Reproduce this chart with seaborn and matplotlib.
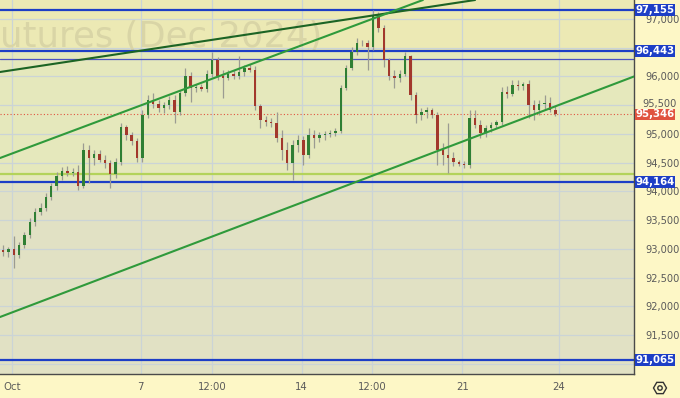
import numpy as np
import pandas as pd
import matplotlib
matplotlib.use("Agg")
import matplotlib.pyplot as plt
import matplotlib.transforms as mtransforms
from matplotlib.patches import Rectangle, RegularPolygon, Circle
import seaborn as sns

# ---------------- data ----------------
opens = [92982, 92948, 93000, 92896, 93069, 93243, 93469, 93643, 93713, 93904,
         94095, 94269, 94356, 94322, 94339, 94095, 94721, 94582, 94652, 94548,
         94495, 94304, 94513, 95121, 94982, 94878, 94582, 95330, 95591, 95521,
         95452, 95504, 95591, 95382, 95713, 96008, 95800, 95817, 95782, 96043,
         96287, 96008, 95974, 96043, 96008, 96078, 96147, 96113, 95487, 95243,
         95208, 95191, 94930, 94721, 94495, 94808, 94895, 94635, 94982, 94930,
         94982, 95000, 95017, 95052, 95800, 96147, 96426, 96582, 96582, 96513,
         97069, 96843, 96287, 96008, 95974, 96043, 96356, 95678, 95330, 95382,
         95417, 95330, 94721, 94635, 94582, 94513, 94478, 94461, 95278, 95156,
         95017, 95104, 95156, 95208, 95730, 95695, 95852, 95834, 95869, 95504,
         95417, 95521, 95539, 95417]
highs = [93069, 93035, 93226, 93122, 93296, 93539, 93713, 93800, 93974, 94148,
         94339, 94426, 94443, 94408, 94461, 94843, 94808, 94721, 94721, 94635,
         94548, 94582, 95191, 95156, 95035, 94930, 95417, 95678, 95713, 95591,
         95556, 95661, 95678, 95765, 96147, 96078, 95869, 95869, 96113, 96426,
         96339, 96113, 96113, 96113, 96356, 96200, 96217, 96182, 95521, 95313,
         95278, 95382, 95069, 94861, 94895, 94982, 94965, 95104, 95069, 95035,
         95052, 95069, 95104, 95852, 96200, 96513, 96669, 96635, 96635, 97156,
         97121, 96895, 96321, 96113, 96113, 96426, 96374, 95730, 95452, 95469,
         95452, 95382, 94843, 95191, 94687, 94548, 94530, 95417, 95417, 95243,
         95156, 95208, 95243, 95817, 95834, 95939, 95939, 95904, 95939, 95591,
         95591, 95678, 95643, 95487]
lows = [92878, 92861, 92669, 92843, 93017, 93191, 93400, 93591, 93661, 93852,
        94026, 94200, 94269, 94269, 94026, 94061, 94148, 94461, 94513, 94408,
        94061, 94235, 94461, 94895, 94808, 94513, 94513, 95278, 95452, 95382,
        95365, 95434, 95191, 95330, 95661, 95556, 95730, 95748, 95730, 95991,
        95939, 95626, 95939, 95956, 95956, 96008, 96078, 95417, 95104, 95139,
        95121, 94861, 94548, 94374, 94200, 94687, 94461, 94582, 94756, 94861,
        94895, 94948, 94965, 95017, 95765, 96113, 96374, 96530, 96113, 96461,
        96774, 96165, 95939, 95800, 95904, 96008, 95591, 95191, 95243, 95278,
        95278, 94461, 94461, 94322, 94443, 94443, 94408, 94408, 95104, 94930,
        94948, 95035, 95104, 95156, 95626, 95661, 95765, 95765, 95278, 95243,
        95330, 95417, 95382, 95313]
closes = [92948, 93000, 92896, 93069, 93243, 93469, 93643, 93713, 93904, 94095,
          94269, 94356, 94322, 94339, 94095, 94721, 94582, 94652, 94548, 94495,
          94304, 94513, 95121, 94982, 94878, 94582, 95330, 95591, 95521, 95452,
          95504, 95591, 95382, 95713, 96008, 95800, 95817, 95782, 96043, 96287,
          96008, 95974, 96043, 96008, 96078, 96147, 96113, 95487, 95243, 95208,
          95191, 94930, 94721, 94495, 94808, 94895, 94635, 94982, 94930, 94982,
          95000, 95017, 95052, 95800, 96147, 96426, 96582, 96575, 96513, 97069,
          96843, 96287, 96008, 95974, 96043, 96356, 95678, 95330, 95382, 95417,
          95330, 94721, 94635, 94582, 94513, 94478, 94461, 95278, 95156, 95017,
          95104, 95156, 95208, 95730, 95695, 95852, 95834, 95869, 95504, 95417,
          95521, 95539, 95417, 95346]

level_blue = [97155, 96443, 94164, 91065]
level_thin_blue = 96305
level_lime = 94300
last_price = 95346

# trend lines: (day position, price)
trend_dark_x, trend_dark_y = [-0.373, 14.39], [96078, 97330]
trend_up_x, trend_up_y = [-0.373, 12.77], [94582, 97330]
trend_low_x, trend_low_y = [-0.373, 19.33], [91817, 96000]

x_tick_pos = [0, 4, 6.22, 9, 11.19, 14, 17]
x_tick_labels = ["Oct", "7", "12:00", "14", "12:00", "21", "24"]
# price-scale labels (96,500 and 91,000 sit under the level boxes)
y_grid_vals = [91000, 91500, 92000, 92500, 93000, 93500, 94000, 94500,
               95000, 95500, 96000, 96500, 97000]
y_label_vals = [91500, 92000, 92500, 93000, 93500, 94000, 94500,
                95000, 96000, 97000]
y_label_nudged = 95500   # sits just above the last-price box
watermark = "utures (Dec 2024)"

# ---------------- style ----------------
sns.set_theme(style="white")
plt.rcParams['font.family'] = ['DejaVu Sans']

W, H = 680, 398
fig = plt.figure(figsize=(W / 100, H / 100), dpi=100, facecolor="#fdf7c6")
ax = fig.add_axes([0, 24 / H, 634 / W, 374 / H])
ax.set_facecolor("#e1e1c4")

XMIN, XMAX = -0.373, 19.33
YMIN, YMAX = 90826, 97330
ax.set_xlim(XMIN, XMAX)
ax.set_ylim(YMIN, YMAX)

# background bands
ax.axhspan(96443, YMAX, color="#ece9b4", zorder=0, lw=0)
ax.axhspan(94164, 96443, color="#e5e8bc", zorder=0, lw=0)
ax.axhspan(YMIN, 94164, color="#e1e1c4", zorder=0, lw=0)

# grid
for yv in y_grid_vals:
    ax.axhline(yv, color="#cbd4d6", lw=0.9, zorder=0.5)
for xv in x_tick_pos:
    ax.axvline(xv, color="#cbd4d6", lw=0.9, zorder=0.5)

# watermark
ax.text(322 / 634, 1 - 47 / 374, watermark, transform=ax.transAxes,
        ha="right", va="baseline", fontsize=25.6, color="#d9d5a6",
        zorder=0.6, family="DejaVu Sans")

# candles
n = len(closes)
xs = np.arange(n) / 6.0 - 0.28
df = pd.DataFrame({"x": xs, "o": opens, "h": highs, "l": lows, "c": closes})
ax.vlines(df["x"], df["l"], df["h"], color="#9b9b92", lw=0.9, zorder=3)
up = df["c"] >= df["o"]
body = (df["c"] - df["o"]).abs().clip(lower=15)
bottom = np.minimum(df["o"], df["c"])
ax.bar(df["x"][up], body[up], bottom=bottom[up], width=0.075,
       color="#2f7f34", lw=0, zorder=4)
ax.bar(df["x"][~up], body[~up], bottom=bottom[~up], width=0.075,
       color="#a2382c", lw=0, zorder=4)

# horizontal levels
ax.axhline(level_lime, color="#b3d35a", lw=1.6, zorder=2)
ax.axhline(level_thin_blue, color="#4b52c4", lw=0.9, zorder=2)
for lv in level_blue:
    ax.axhline(lv, color="#1d3ec6", lw=1.6, zorder=2)
ax.axhline(last_price, color="#e0533f", lw=0.8, ls=(0, (1, 2)), zorder=2)

# trend lines via seaborn
tl = pd.DataFrame({
    "x": trend_dark_x + trend_up_x + trend_low_x,
    "y": trend_dark_y + trend_up_y + trend_low_y,
    "line": ["dark"] * 2 + ["up"] * 2 + ["low"] * 2,
})
sns.lineplot(data=tl, x="x", y="y", hue="line",
             palette={"dark": "#1c6424", "up": "#2f9a3b", "low": "#2f9a3b"},
             lw=1.5, legend=False, ax=ax, zorder=5)

# axes decoration
ax.set_xlabel("")
ax.set_ylabel("")
ax.set_xticks(x_tick_pos)
ax.set_xticklabels(x_tick_labels)
ax.yaxis.tick_right()
ax.set_yticks(y_label_vals)
ax.set_yticklabels([f"{v:,}" for v in y_label_vals])
ax.tick_params(axis="y", length=0, pad=8, labelsize=7.1, labelcolor="#5a5a5a")
ax.tick_params(axis="x", length=0, pad=6, labelsize=7.3, labelcolor="#5a5a5a")
ax.grid(False)
for s in ["top", "left"]:
    ax.spines[s].set_visible(False)
for s in ["right", "bottom"]:
    ax.spines[s].set_visible(True)
    ax.spines[s].set_color("#4a4a4a")
    ax.spines[s].set_linewidth(1.0)

trans = mtransforms.blended_transform_factory(ax.transAxes, ax.transData)
px = (YMAX - YMIN) / 374.0

# 95,500 label nudged up a little so the last-price box does not cover it
ax.text(1 + 8 / 634, y_label_nudged + 2.5 * px, f"{y_label_nudged:,}",
        transform=trans, ha="left", va="center_baseline", fontsize=7.1,
        color="#5a5a5a", clip_on=False)

# price label boxes
def price_box(val, color, h=12):
    r = Rectangle((1 + 1 / 634, val - h / 2 * px), 40 / 634, h * px,
                  transform=trans, facecolor=color, edgecolor="none",
                  clip_on=False, zorder=10)
    ax.add_patch(r)
    ax.text(1 + 21 / 634, val, f"{val:,}", transform=trans, ha="center",
            va="center", color="white", fontsize=7.3, fontweight="bold",
            clip_on=False, zorder=11)

for lv in level_blue:
    price_box(lv, "#1d3ec6")
price_box(last_price, "#e0533f", h=11)

# settings icon
fig.add_artist(RegularPolygon((6.60, 0.10), 6, radius=0.065,
                              orientation=np.pi / 6, facecolor="none",
                              edgecolor="#333333", lw=1.0,
                              transform=fig.dpi_scale_trans))
fig.add_artist(Circle((6.60, 0.10), 0.022, facecolor="none",
                      edgecolor="#333333", lw=1.0,
                      transform=fig.dpi_scale_trans))

fig.savefig("out.png", dpi=100, facecolor=fig.get_facecolor())
